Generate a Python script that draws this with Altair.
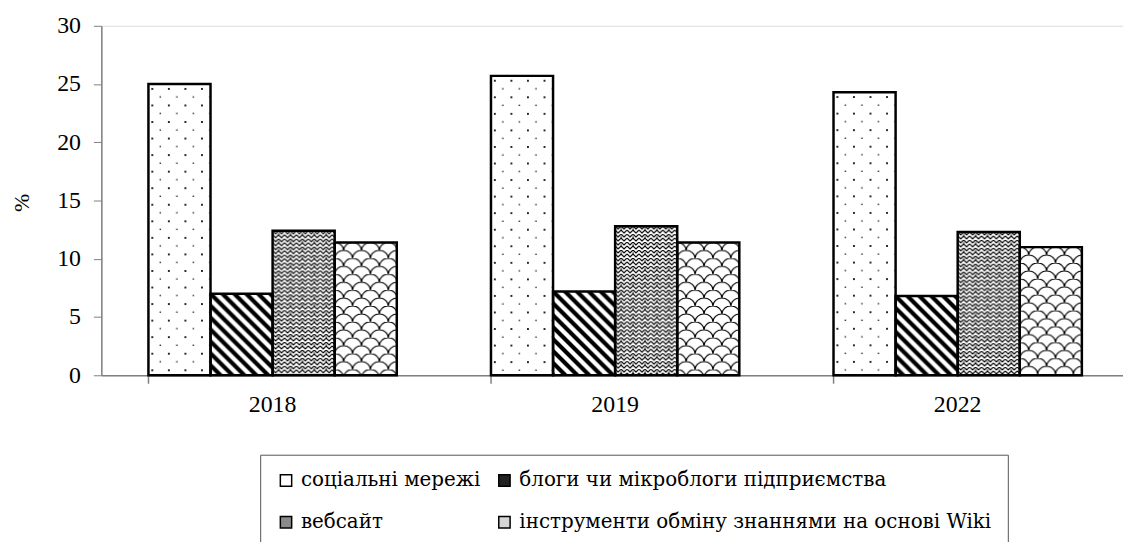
import urllib.parse
import altair as alt
import pandas as pd

# ---- data ----
years = ["2018", "2019", "2022"]
series = [
    "соціальні мережі",
    "блоги чи мікроблоги підприємства",
    "вебсайт",
    "інструменти обміну знаннями на основі Wiki",
]
social = [25.0, 25.7, 24.3]
blogs = [7.0, 7.2, 6.8]
website = [12.4, 12.8, 12.3]
wiki = [11.4, 11.4, 11.0]

# ---- styles: hatch patterns as small SVG tiles ----
def pattern_uri(w, h, body):
    svg = (
        "<svg xmlns='http://www.w3.org/2000/svg' width='100%' height='100%'>"
        f"<defs><pattern id='p' x='0' y='0' width='{w}' height='{h}' patternUnits='userSpaceOnUse'>"
        f"<rect width='{w}' height='{h}' fill='white'/>{body}</pattern></defs>"
        "<rect width='100%' height='100%' fill='url(#p)'/></svg>"
    )
    return "data:image/svg+xml;charset=utf-8," + urllib.parse.quote(svg, safe="")

patterns = {
    series[0]: pattern_uri(16.67, 16.67,
        "<rect x='3' y='4' width='1.8' height='1.8' fill='black'/>"
        "<rect x='11.3' y='12.4' width='1.4' height='1.2' fill='black'/>"),
    series[1]: pattern_uri(12, 12,
        "<path d='M0,0L12,12M-6,6L6,18M6,-6L18,6' stroke='black' stroke-width='4.2'/>"),
    series[2]: pattern_uri(12, 8,
        "<path d='M0,0L3,3L6,0L9,3L12,0M0,4L3,7L6,4L9,7L12,4' fill='none' stroke='black' stroke-width='1.2'/>"
        "<rect x='5.5' y='2.5' width='1.2' height='1.2' fill='black'/>"),
    series[3]: pattern_uri(18, 16,
        "<path d='M0,16A9,8 0 0,1 18,16M-9,8A9,8 0 0,1 9,8M9,8A9,8 0 0,1 27,8M0,0A9,8 0 0,1 18,0' "
        "fill='none' stroke='black' stroke-width='1.2'/>"),
}
legend_fill = {series[0]: "#ffffff", series[1]: "#222222", series[2]: "#8a8a8a", series[3]: "#d6d6d6"}
# legend is filled column by column: put the 2nd-row items second in each column
legend_order = [series[0], series[2], series[1], series[3]]

values = [social, blogs, website, wiki]
rows = []
for s, vals in zip(series, values):
    for y, v in zip(years, vals):
        rows.append({"year": y, "series": s, "value": v, "url": patterns[s]})
df = pd.DataFrame(rows)

FONT = "Liberation Serif, Times New Roman, serif"
LEGEND_FONT = "DejaVu Serif"

x_scale = alt.Scale(domain=years, range=[0, 1035], paddingInner=0.275, paddingOuter=0.1375)
xo = alt.XOffset("series:N", scale=alt.Scale(domain=series, paddingInner=0, paddingOuter=0))
y_scale = alt.Scale(domain=[0, 30], nice=False)

base = alt.Chart(df)

fill_layer = base.mark_bar(strokeWidth=0).encode(
    x=alt.X("year:N", scale=x_scale, title=None,
            axis=alt.Axis(orient="bottom", ticks=False, labelAngle=0, labelFont=FONT,
                          labelFontSize=24, labelColor="black", labelPadding=17,
                          domainColor="#808080", domainWidth=1.5)),
    xOffset=xo,
    y=alt.Y("value:Q", scale=y_scale,
            axis=alt.Axis(values=[0, 5, 10, 15, 20, 25, 30], grid=False, tickSize=8,
                          tickColor="#808080", domainColor="#808080", domainWidth=1.5,
                          labelFont=FONT, labelFontSize=24, labelColor="black", labelPadding=13,
                          title="%", titleFont=FONT, titleFontSize=22, titleFontWeight="normal",
                          titleColor="black", titleAngle=270, titleX=-80, titleY=178,
                          titleAlign="center", titleBaseline="middle")),
    color=alt.Color("series:N",
                    scale=alt.Scale(domain=legend_order, range=[legend_fill[s] for s in legend_order]),
                    legend=alt.Legend(orient="none", legendX=160, legendY=432, columns=2,
                                      title=None, symbolType="square", symbolSize=130,
                                      symbolStrokeColor="black", symbolStrokeWidth=1.5,
                                      symbolOpacity=1, labelFont=LEGEND_FONT, labelFontSize=20,
                                      labelColor="black", labelLimit=0, labelOffset=5,
                                      strokeColor="#555555", fillColor="white", padding=16,
                                      rowPadding=22, columnPadding=14)),
)

img_layer = base.mark_image(aspect=False).encode(
    x=alt.X("year:N", scale=x_scale, axis=None),
    xOffset=xo,
    y=alt.Y("value:Q", scale=y_scale),
    y2=alt.datum(0),
    url=alt.Url("url:N"),
)

outline_layer = base.mark_bar(fillOpacity=0, stroke="black", strokeWidth=2.5).encode(
    x=alt.X("year:N", scale=x_scale, title=None,
            axis=alt.Axis(orient="bottom", labels=False, domain=False, ticks=True,
                          bandPosition=0, tickSize=8, tickColor="#808080", tickWidth=1.5)),
    xOffset=xo,
    y=alt.Y("value:Q", scale=y_scale),
)

chart = (
    alt.layer(fill_layer, img_layer, outline_layer)
    .resolve_axis(x="independent")
    .properties(
        width=1029,
        height=352,
        autosize=alt.AutoSizeParams(type="none"),
        padding={"left": 94, "top": 16, "right": 0, "bottom": 166},
    )
    .configure_view(stroke=None)
    .configure(background="white")
)

chart.save("out.html", embed_options={"renderer": "svg", "actions": False})
